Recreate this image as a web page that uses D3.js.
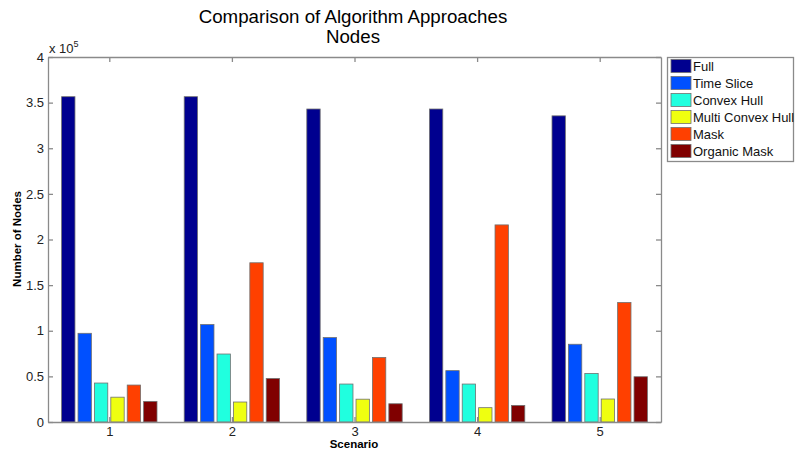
<!DOCTYPE html>
<html><head><meta charset="utf-8">
<script src="https://d3js.org/d3.v7.min.js"></script>
<style>body{margin:0;background:#fff}svg{display:block;font-family:"Liberation Sans",Arial,sans-serif}</style>
</head><body><svg id="c" width="795" height="456"></svg>
<script>
const scenarios = [1, 2, 3, 4, 5];
const seriesNames = ["Full", "Time Slice", "Convex Hull", "Multi Convex Hull", "Mask", "Organic Mask"];
const seriesColors = ["#00008f", "#0050ff", "#20ffdf", "#efff10", "#ff4000", "#800000"];
// values in units of 10^5 nodes
const full = [3.565, 3.565, 3.43, 3.43, 3.355];
const timeSlice = [0.972, 1.068, 0.925, 0.563, 0.852];
const convexHull = [0.427, 0.745, 0.416, 0.416, 0.532];
const multiConvexHull = [0.272, 0.219, 0.250, 0.157, 0.252];
const mask = [0.405, 1.745, 0.707, 2.16, 1.31];
const organicMask = [0.226, 0.477, 0.200, 0.182, 0.496];
const yTicks = [0, 0.5, 1, 1.5, 2, 2.5, 3, 3.5, 4];
const yTickLabels = ["0", "0.5", "1", "1.5", "2", "2.5", "3", "3.5", "4"];

const values = [full, timeSlice, convexHull, multiConvexHull, mask, organicMask];
const svg = d3.select("#c");
const L = 48, R = 661, T = 57, B = 422;
const x = d3.scaleLinear().domain([0.5, 5.5]).range([L, R]);
const y = d3.scaleLinear().domain([0, 4]).range([B, T]);
const step = 0.1338, bw = 0.109;
const axisCol = "#8a8a8a";

// bars
values.forEach((vals, j) => {
  svg.append("g").selectAll("rect").data(vals).join("rect")
    .attr("x", (d, i) => x(scenarios[i] + (j - 2.5) * step - bw / 2))
    .attr("width", x(1 + bw) - x(1))
    .attr("y", d => y(d))
    .attr("height", d => y(0) - y(d))
    .attr("fill", seriesColors[j])
    .attr("stroke", "#707070").attr("stroke-width", 0.8);
});

// axes box & ticks
const g = svg.append("g");
const axL = d3.axisLeft(y).tickValues(yTicks).tickFormat((d, i) => yTickLabels[i]).tickSizeInner(-5).tickSizeOuter(0).tickPadding(4);
const axR = d3.axisRight(y).tickValues(yTicks).tickFormat("").tickSizeInner(-5).tickSizeOuter(0);
const axB = d3.axisBottom(x).tickValues(scenarios).tickFormat(d3.format("d")).tickSizeInner(-5).tickSizeOuter(0).tickPadding(5);
const axT = d3.axisTop(x).tickValues(scenarios).tickFormat("").tickSizeInner(-5).tickSizeOuter(0);
function style(sel) {
  sel.selectAll("path, line").attr("stroke", axisCol).attr("stroke-width", 1.3);
  sel.selectAll("text").attr("fill", "#222").style("font-size", "13px").style("font-family", '"Liberation Sans",Arial,sans-serif');
}
g.append("g").attr("transform", `translate(${L},0)`).call(axL).call(style);
g.append("g").attr("transform", `translate(${R},0)`).call(axR).call(style);
g.append("g").attr("transform", `translate(0,${B})`).call(axB).call(style);
g.append("g").attr("transform", `translate(0,${T})`).call(axT).call(style);

// exponent label
const ex = svg.append("text").attr("x", 49).attr("y", 53).attr("fill", "#222").style("font-size", "13px");
ex.append("tspan").text("x 10");
ex.append("tspan").attr("dy", -6).style("font-size", "9px").text("5");

// title
svg.append("text").attr("x", 353).attr("y", 23).attr("text-anchor", "middle").style("font-size", "18.7px").attr("fill", "#000").text("Comparison of Algorithm Approaches");
svg.append("text").attr("x", 353).attr("y", 43).attr("text-anchor", "middle").style("font-size", "18.7px").attr("fill", "#000").text("Nodes");

// axis labels
svg.append("text").attr("x", 354).attr("y", 448).attr("text-anchor", "middle").style("font-size", "11.5px").style("font-weight", "bold").text("Scenario");
svg.append("text").attr("transform", `translate(21,239) rotate(-90)`).attr("text-anchor", "middle").style("font-size", "11.5px").style("font-weight", "bold").text("Number of Nodes");

// legend
const lg = svg.append("g");
lg.append("rect").attr("x", 667.5).attr("y", 57.5).attr("width", 126).attr("height", 104).attr("fill", "#fff").attr("stroke", axisCol).attr("stroke-width", 1.3);
seriesNames.forEach((n, j) => {
  const cy = 66 + j * 17;
  lg.append("rect").attr("x", 671).attr("y", cy - 6.5).attr("width", 20).attr("height", 13).attr("fill", seriesColors[j]).attr("stroke", "#707070").attr("stroke-width", 0.8);
  lg.append("text").attr("x", 693).attr("y", cy + 4.5).style("font-size", "13px").attr("fill", "#111").text(n);
});
</script></body></html>
